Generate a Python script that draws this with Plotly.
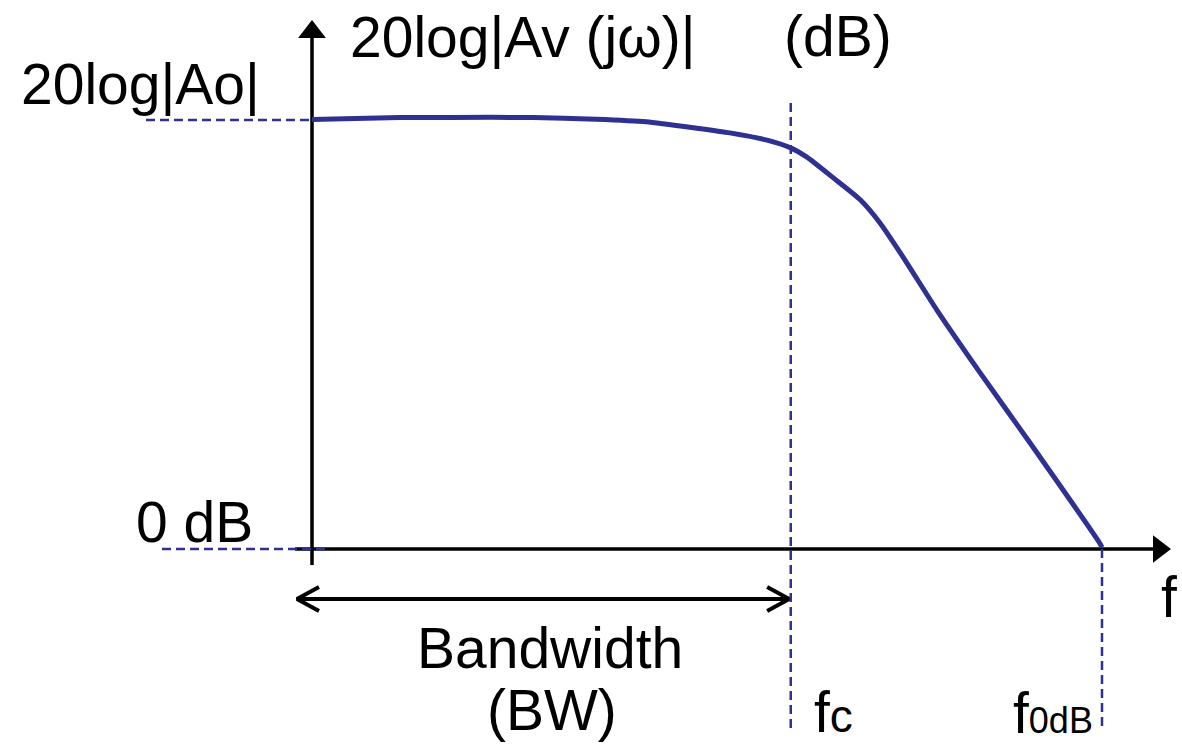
import plotly.graph_objects as go

# ---------------- data (arbitrary units: frequency axis, gain in dB-like units) ----------------
freq = [0, 11.1, 17.5, 28.0, 36.0, 42.3, 48.7, 52.9, 57.6, 60.6, 62.6, 66.0,
        69.4, 71.9, 74.8, 79.1, 84.6, 90.9, 99.7, 100.0]
gain = [100.1, 100.6, 100.6, 100.6, 100.2, 99.6, 98.1, 97.0, 95.3, 93.5, 91.4, 86.5,
        81.4, 76.0, 68.1, 55.7, 41.0, 24.7, 1.4, 0.4]

AO = 100.0        # 20log|Ao| level
ZERO_DB = 0.0     # 0 dB level
FC = 60.6         # corner frequency
F0DB = 100.0      # unity-gain frequency

labels = {
    "ylabel": "20log|Av (jω)|",
    "yunit": "(dB)",
    "ao": "20log|Ao|",
    "zero": "0 dB",
    "bw1": "Bandwidth",
    "bw2": "(BW)",
    "f": "f",
}

# ---------------- layout helpers (pixel <-> data mapping) ----------------
W, H = 1182, 751
X0_PX, Y0_PX = 312, 549          # pixel position of origin
SX, SY = 7.9, 4.29               # pixels per unit


def X(px):
    return (px - X0_PX) / SX


def Y(py):
    return (Y0_PX - py) / SY


BLUE = "#2E3192"
BLACK = "#000000"
FONT = "Liberation Sans, Arial, Helvetica, sans-serif"
FS = 57

fig = go.Figure()

# axes
fig.add_trace(go.Scatter(x=[0, 0], y=[Y(565), Y(32)], mode="lines",
                         line=dict(color=BLACK, width=3.5), hoverinfo="skip"))
fig.add_trace(go.Scatter(x=[X(295), X(1159)], y=[ZERO_DB, ZERO_DB], mode="lines",
                         line=dict(color=BLACK, width=3.5), hoverinfo="skip"))
fig.add_trace(go.Scatter(x=[0], y=[Y(32)], mode="markers",
                         marker=dict(symbol="triangle-up", size=24, color=BLACK,
                                     line=dict(width=0)), hoverinfo="skip"))
fig.add_trace(go.Scatter(x=[X(1159)], y=[ZERO_DB], mode="markers",
                         marker=dict(symbol="triangle-right", size=24, color=BLACK,
                                     line=dict(width=0)), hoverinfo="skip"))

# bandwidth double arrow
bw_y = Y(599)
bw_l, bw_r = X(297), FC - 0.2
adx, ady = 22 / SX, 12 / SY
fig.add_trace(go.Scatter(
    x=[bw_l, bw_r, None, bw_l + adx, bw_l, bw_l + adx, None, bw_r - adx, bw_r, bw_r - adx],
    y=[bw_y, bw_y, None, bw_y + ady, bw_y, bw_y - ady, None, bw_y + ady, bw_y, bw_y - ady],
    mode="lines", line=dict(color=BLACK, width=4), hoverinfo="skip"))

# dashed guide lines
dash = dict(color=BLUE, width=2.5, dash="9px,5px")
fig.add_trace(go.Scatter(x=[X(146), 0], y=[AO, AO], mode="lines", line=dash, hoverinfo="skip"))
fig.add_trace(go.Scatter(x=[X(162), X(325)], y=[ZERO_DB, ZERO_DB], mode="lines", line=dash, hoverinfo="skip"))
fig.add_trace(go.Scatter(x=[FC, FC], y=[Y(103), Y(728)], mode="lines", line=dash, hoverinfo="skip"))
fig.add_trace(go.Scatter(x=[F0DB, F0DB], y=[ZERO_DB, Y(728)], mode="lines", line=dash, hoverinfo="skip"))

# response curve
fig.add_trace(go.Scatter(x=freq, y=gain, mode="lines",
                         line=dict(color=BLUE, width=5, shape="spline", smoothing=0.6),
                         hoverinfo="skip"))

# text labels (anchored at vertical middle; baseline offset ~0.3465*FS)
BOFF = 0.3465 * FS


def add_text(text, px, baseline, anchor="left", size=FS):
    fig.add_annotation(x=X(px), y=Y(baseline - BOFF), text=text, showarrow=False,
                       xanchor=anchor, yanchor="middle", borderpad=0,
                       font=dict(family=FONT, size=size, color=BLACK))


add_text(labels["ylabel"], 349, 57)
add_text(labels["yunit"], 783, 56)
add_text(labels["ao"], 20, 104)
add_text(labels["zero"], 135, 542)
add_text(labels["bw1"], 550, 668, anchor="center")
add_text(labels["bw2"], 552, 730, anchor="center")
add_text(labels["f"], 1160, 617)
add_text("f<span style='font-size:46px'>c</span>", 813, 732)
add_text("f<span style='font-size:36px'>0dB</span>", 1012, 733)

fig.update_layout(
    width=W, height=H,
    margin=dict(l=0, r=0, t=0, b=0),
    paper_bgcolor="white", plot_bgcolor="white",
    showlegend=False,
    xaxis=dict(visible=False, range=[X(0), X(W)], fixedrange=True),
    yaxis=dict(visible=False, range=[Y(H), Y(0)], fixedrange=True),
)

fig.write_html(
    "out.html",
    config={"displayModeBar": False},
    post_script="document.body.style.margin='0';document.body.style.overflow='hidden';",
)
